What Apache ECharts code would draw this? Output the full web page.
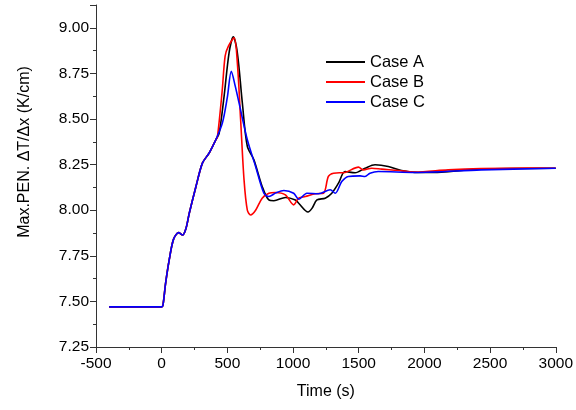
<!DOCTYPE html>
<html><head><meta charset="utf-8">
<script src="https://cdn.jsdelivr.net/npm/echarts@6/dist/echarts.min.js"></script>
<style>html,body{margin:0;padding:0;background:#fff}#c{width:576px;height:410px}</style>
</head><body><div id="c"></div>
<script>
const seriesNames = ['Case A', 'Case B', 'Case C'];
const xTicks = [-500, 0, 500, 1000, 1500, 2000, 2500, 3000];
const yTicks = [7.25, 7.5, 7.75, 8.0, 8.25, 8.5, 8.75, 9.0];

const timeA = [-400, 0, 10, 30, 58, 90, 129, 159, 185, 210, 261, 310, 361, 412, 437, 475, 513, 545, 576, 614, 652, 702, 765, 816, 854, 942, 1018, 1043, 1114, 1144, 1182, 1245, 1295, 1346, 1396, 1472, 1548, 1624, 1725, 1826, 1952, 2129, 2432, 3000];
const valA  = [7.47, 7.47, 7.48, 7.60, 7.73, 7.84, 7.877, 7.864, 7.90, 7.983, 8.13, 8.258, 8.313, 8.386, 8.42, 8.624, 8.863, 8.95, 8.863, 8.588, 8.35, 8.276, 8.13, 8.056, 8.052, 8.07, 8.056, 8.038, 7.99, 8.01, 8.056, 8.066, 8.093, 8.148, 8.212, 8.205, 8.23, 8.249, 8.24, 8.218, 8.207, 8.209, 8.226, 8.23];

const timeB = [-400, 0, 10, 30, 58, 90, 129, 159, 185, 210, 261, 310, 361, 412, 424, 460, 483, 508, 551, 576, 601, 627, 652, 677, 715, 765, 816, 866, 942, 1005, 1043, 1094, 1170, 1232, 1269, 1308, 1396, 1498, 1536, 1599, 1675, 1801, 1927, 2180, 2432, 2785, 3000];
const valB  = [7.47, 7.47, 7.48, 7.60, 7.73, 7.84, 7.877, 7.864, 7.90, 7.983, 8.13, 8.258, 8.313, 8.386, 8.40, 8.65, 8.845, 8.90, 8.945, 8.808, 8.496, 8.166, 8.0, 7.974, 8.0, 8.066, 8.093, 8.097, 8.084, 8.029, 8.066, 8.075, 8.09, 8.093, 8.185, 8.203, 8.207, 8.236, 8.221, 8.23, 8.225, 8.218, 8.209, 8.221, 8.228, 8.231, 8.23];

const timeC = [-400, 0, 10, 30, 58, 90, 129, 159, 185, 210, 261, 310, 361, 412, 462, 500, 530, 560, 589, 652, 715, 778, 816, 870, 930, 1005, 1043, 1106, 1194, 1283, 1321, 1371, 1421, 1510, 1548, 1586, 1649, 1927, 2432, 3000];
const valC  = [7.47, 7.47, 7.48, 7.60, 7.73, 7.84, 7.877, 7.864, 7.90, 7.983, 8.13, 8.258, 8.313, 8.386, 8.478, 8.62, 8.762, 8.68, 8.588, 8.386, 8.24, 8.093, 8.075, 8.095, 8.108, 8.093, 8.06, 8.093, 8.09, 8.112, 8.093, 8.157, 8.185, 8.188, 8.185, 8.203, 8.212, 8.207, 8.221, 8.23];

const colors = ['#000000', '#ff0000', '#0000ff'];
const times = [timeA, timeB, timeC];
const vals = [valA, valB, valC];

const font = 'Arial, "Liberation Sans", sans-serif';
const chart = echarts.init(document.getElementById('c'));
chart.setOption({
  animation: false,
  grid: {left: 96, right: 18, top: 5, bottom: 63, containLabel: false},
  legend: {
    orient: 'vertical', left: 326, top: 53, padding: 0, icon: 'rect',
    itemWidth: 39, itemHeight: 2, itemGap: 2,
    textStyle: {fontFamily: font, fontSize: 16.5, color: '#000', lineHeight: 18},
    data: seriesNames
  },
  xAxis: {
    type: 'value', min: xTicks[0], max: xTicks[xTicks.length - 1], interval: 500,
    name: 'Time (s)', nameLocation: 'middle', nameGap: 37,
    nameTextStyle: {fontFamily: font, fontSize: 16, color: '#000'},
    axisLine: {onZero: false, lineStyle: {color: '#333', width: 1}},
    axisTick: {inside: false, length: 6, lineStyle: {color: '#333'}},
    minorTick: {show: true, splitNumber: 2, length: 3, lineStyle: {color: '#333'}},
    splitLine: {show: false},
    axisLabel: {fontFamily: font, fontSize: 15.5, color: '#000', margin: 9,
      formatter: v => String(v)}
  },
  yAxis: {
    type: 'value', min: yTicks[0], max: 9.125, interval: 0.25,
    name: 'Max.PEN. ΔT/Δx (K/cm)', nameLocation: 'middle', nameGap: 63,
    nameTextStyle: {fontFamily: font, fontSize: 16, color: '#000', padding: [0, 0, 0, 48]},
    axisLine: {onZero: false, lineStyle: {color: '#333', width: 1}},
    axisTick: {inside: false, length: 6, lineStyle: {color: '#333'}},
    minorTick: {show: true, splitNumber: 2, length: 3, lineStyle: {color: '#333'}},
    splitLine: {show: false},
    axisLabel: {fontFamily: font, fontSize: 15.5, color: '#000', margin: 7,
      formatter: v => v > 9.01 ? '' : v.toFixed(2)}
  },
  series: seriesNames.map((n, i) => ({
    name: n, type: 'line', symbol: 'none', smooth: 0.3,
    color: colors[i],
    lineStyle: {width: 1.6, color: colors[i]},
    data: times[i].map((t, j) => [t, vals[i][j]]),
    z: 2 + i
  }))
});
</script></body></html>
